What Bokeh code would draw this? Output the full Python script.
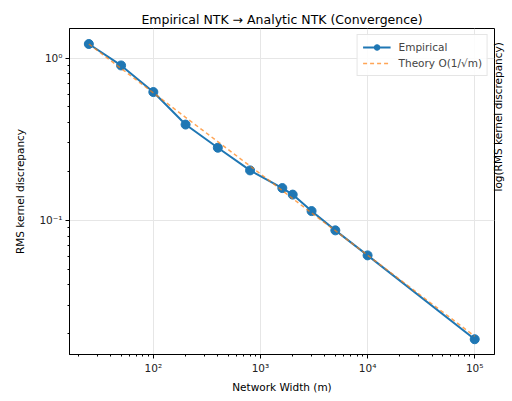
import math
from bokeh.plotting import figure
from bokeh.models import (Range1d, LogTicker, FixedTicker, CustomJSTickFormatter,
                          LogAxis, Legend)
from bokeh.embed import file_html
from bokeh.resources import INLINE

# ---- data ----
widths = [25, 50, 100, 200, 400, 800, 1600, 2000, 3000, 5000, 10000, 100000]
empirical = [1.22, 0.90, 0.617, 0.389, 0.280, 0.203, 0.158, 0.144, 0.114, 0.0867, 0.0608, 0.0185]
theory = [1.22, 0.863, 0.610, 0.431, 0.305, 0.216, 0.1525, 0.136, 0.111, 0.0863, 0.0610, 0.0193]

title_text = "Empirical NTK \u2192 Analytic NTK (Convergence)"
x_label = "Network Width (m)"
y_label = "RMS kernel discrepancy"
right_label = "log(RMS kernel discrepancy)"
legend_labels = ["Empirical", "Theory O(1/\u221am)"]

FONT = "DejaVu Sans"

p = figure(width=512, height=401, output_backend="svg", toolbar_location=None,
           x_axis_type="log", y_axis_type="log",
           x_range=Range1d(16.5, 153000), y_range=Range1d(0.0149, 1.52),
           min_border_left=69, min_border_right=16, min_border_top=28,
           min_border_bottom=47, background_fill_color="white",
           border_fill_color="white")

p.title.text = title_text
p.title.align = "center"
p.title.text_font = FONT
p.title.text_font_size = "12.5px"
p.title.text_font_style = "normal"
p.title.text_color = "black"
p.title.standoff = 4

p.outline_line_color = "black"
p.outline_line_width = 1

sup = CustomJSTickFormatter(code="""
const e = Math.round(Math.log10(tick));
const m = {'-':'\u207b','0':'\u2070','1':'\u00b9','2':'\u00b2','3':'\u00b3','4':'\u2074','5':'\u2075','6':'\u2076','7':'\u2077','8':'\u2078','9':'\u2079'};
return '10' + String(e).split('').map(c => m[c]).join('');
""")

for ax in (p.xaxis[0], p.yaxis[0]):
    ax.ticker = LogTicker(num_minor_ticks=10)
    ax.formatter = sup
    ax.major_label_text_font = FONT
    ax.major_label_text_font_size = "10.5px"
    ax.major_label_text_color = "#222222"
    ax.axis_label_text_font = FONT
    ax.axis_label_text_font_size = "10.5px"
    ax.axis_label_text_font_style = "normal"
    ax.axis_label_text_color = "black"
    ax.major_tick_in = 0
    ax.major_tick_out = 4
    ax.minor_tick_in = 0
    ax.minor_tick_out = 2
    ax.axis_line_color = "black"
    ax.major_tick_line_color = "black"
    ax.minor_tick_line_color = "black"
    ax.major_label_standoff = 3

p.xaxis.axis_label = x_label
p.yaxis.axis_label = y_label
p.xaxis.axis_label_standoff = 4
p.yaxis.axis_label_standoff = 10

p.xgrid.grid_line_color = "#e6e6e6"
p.ygrid.grid_line_color = "#e6e6e6"
p.xgrid.minor_grid_line_color = None
p.ygrid.minor_grid_line_color = None

# label of the neighbouring panel, peeking in at the right edge
rax = LogAxis(axis_label=right_label, ticker=FixedTicker(ticks=[]),
              axis_line_color=None, major_tick_line_color=None,
              minor_tick_line_color=None, major_label_text_font_size="0px",
              major_tick_out=0, major_tick_in=0, minor_tick_out=0,
              minor_tick_in=0, major_label_standoff=0,
              axis_label_standoff=3, axis_label_text_font=FONT,
              axis_label_text_font_size="10.5px",
              axis_label_text_font_style="normal",
              axis_label_text_color="black",
              axis_label_orientation=math.pi / 2)
p.add_layout(rax, "right")

r_line = p.line(widths, empirical, line_color="#1f77b4", line_width=2)
r_pts = p.scatter(widths, empirical, size=9, fill_color="#1f77b4",
                  line_color="#1f77b4")
r_th = p.line(widths, theory, line_color="#ff7f0e", line_width=1.5,
              line_alpha=0.7, line_dash="4 3")

legend = Legend(items=[(legend_labels[0], [r_line, r_pts]),
                       (legend_labels[1], [r_th])],
                location="top_right")
legend.label_text_font = FONT
legend.label_text_font_size = "10.5px"
legend.border_line_color = "#cccccc"
legend.border_line_width = 1
legend.background_fill_alpha = 0.85
legend.margin = 6
legend.padding = 5
legend.spacing = 2
legend.glyph_width = 28
legend.glyph_height = 14
legend.label_height = 14
legend.label_standoff = 8
p.add_layout(legend, "center")

open("out.html", "w").write(file_html(p, INLINE))
